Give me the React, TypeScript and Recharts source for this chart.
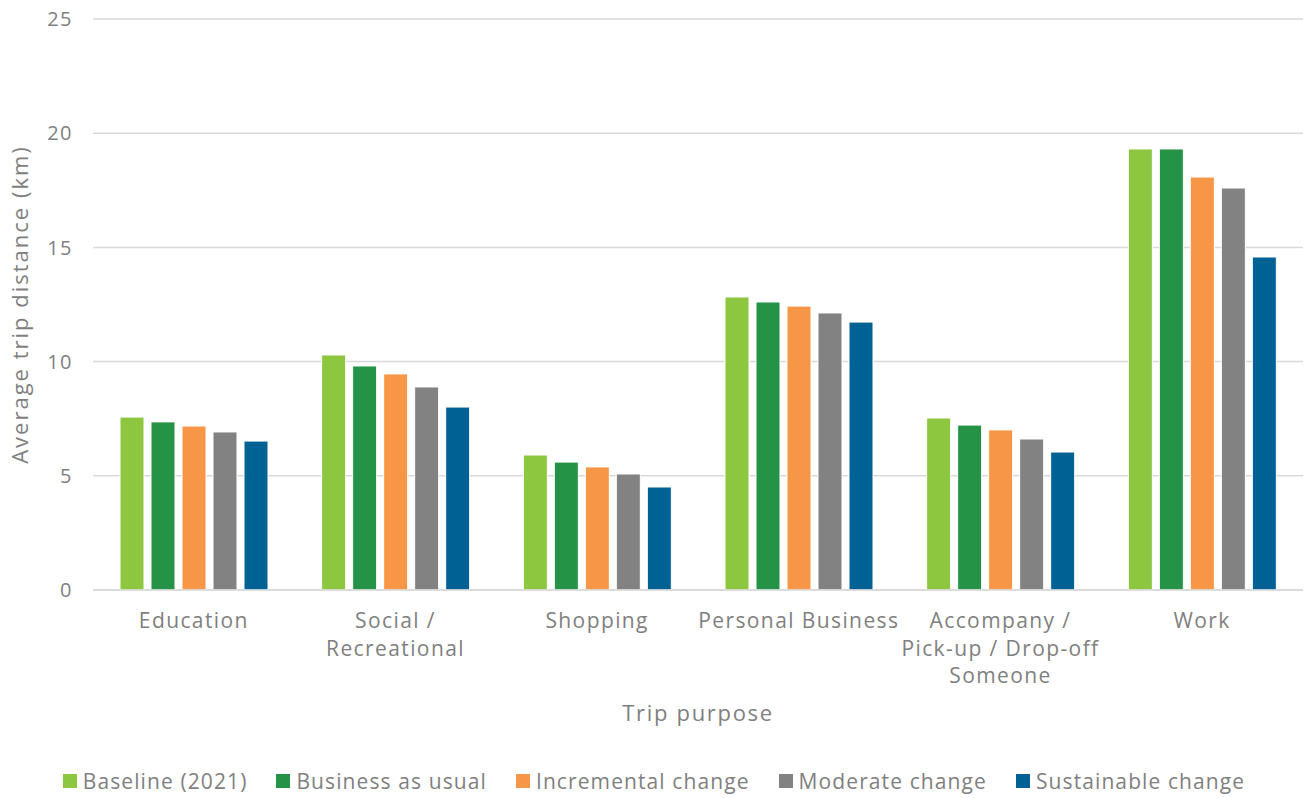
import React from "react";
import {
  BarChart,
  Bar,
  XAxis,
  YAxis,
  CartesianGrid,
  Legend,
  Label,
} from "recharts";

const PURPOSES = [
  "Education",
  "Social /\nRecreational",
  "Shopping",
  "Personal Business",
  "Accompany /\nPick-up / Drop-off\nSomeone",
  "Work",
];

const BASELINE = [7.57, 10.29, 5.91, 12.83, 7.53, 19.31];
const BUSINESS_AS_USUAL = [7.36, 9.81, 5.6, 12.61, 7.22, 19.31];
const INCREMENTAL = [7.18, 9.46, 5.39, 12.43, 7.01, 18.08];
const MODERATE = [6.92, 8.89, 5.08, 12.13, 6.61, 17.6];
const SUSTAINABLE = [6.52, 8.01, 4.51, 11.73, 6.04, 14.58];

const Y_TICKS = [0, 5, 10, 15, 20, 25];

const SERIES = [
  { key: "baseline", name: "Baseline (2021)", color: "#8DC63F", values: BASELINE },
  { key: "bau", name: "Business as usual", color: "#249346", values: BUSINESS_AS_USUAL },
  { key: "incremental", name: "Incremental change", color: "#F79646", values: INCREMENTAL },
  { key: "moderate", name: "Moderate change", color: "#828282", values: MODERATE },
  { key: "sustainable", name: "Sustainable change", color: "#006195", values: SUSTAINABLE },
];

const data = PURPOSES.map((p, i) => {
  const row: Record<string, string | number> = { purpose: p };
  SERIES.forEach((s) => {
    row[s.key] = s.values[i];
  });
  return row;
});

const FONT = "'Open Sans', 'Noto Sans', sans-serif";
const GREY = "#7f7f7f";

function PurposeTick(props: any) {
  const { x, y, payload } = props;
  const lines = String(payload.value).split("\n");
  return (
    <text
      x={x}
      y={y}
      textAnchor="middle"
      fill={GREY}
      fontSize={21}
      fontFamily={FONT}
      letterSpacing={1.4}
    >
      {lines.map((l, i) => (
        <tspan key={i} x={x} dy={i === 0 ? 30 : 27.5}>
          {l}
        </tspan>
      ))}
    </text>
  );
}

function LegendRow() {
  return (
    <div
      style={{
        display: "flex",
        justifyContent: "center",
        gap: 29,
        fontFamily: FONT,
        fontSize: 21,
        letterSpacing: 1.1,
        color: GREY,
        marginLeft: 5,
      }}
    >
      {SERIES.map((s) => (
        <div key={s.key} style={{ display: "flex", alignItems: "center", gap: 6 }}>
          <span style={{ width: 14, height: 14, background: s.color, display: "inline-block" }} />
          <span>{s.name}</span>
        </div>
      ))}
    </div>
  );
}

export default function App() {
  return (
    <div style={{ position: "absolute", left: 0, top: 0, background: "#fff" }}>
      <BarChart
        width={1306}
        height={798}
        data={data}
        margin={{ top: 19, right: 3, bottom: 0, left: 0 }}
        barGap={7}
        barSize={24}
      >
        <CartesianGrid vertical={false} stroke="#d9d9d9" strokeWidth={1.5} />
        <XAxis
          dataKey="purpose"
          axisLine={{ stroke: "#d9d9d9", strokeWidth: 1.5 }}
          tickLine={false}
          interval={0}
          height={180}
          tick={<PurposeTick />}
        >
          <Label
            value="Trip purpose"
            position="insideTop"
            offset={115}
            fill={GREY}
            fontSize={22}
            fontFamily={FONT}
            letterSpacing={1.7}
          />
        </XAxis>
        <YAxis
          domain={[0, 25]}
          ticks={Y_TICKS}
          width={93}
          axisLine={false}
          tickLine={false}
          tickMargin={14}
          tick={{ fill: GREY, fontSize: 20, fontFamily: FONT, letterSpacing: 1.5 }}
        >
          <Label
            value="Average trip distance (km)"
            angle={-90}
            position="insideLeft"
            offset={20}
            fill={GREY}
            fontSize={22}
            fontFamily={FONT}
            letterSpacing={2}
            style={{ textAnchor: "middle" }}
          />
        </YAxis>
        <Legend
          verticalAlign="bottom"
          content={<LegendRow />}
          wrapperStyle={{ bottom: 3 }}
        />
        {SERIES.map((s) => (
          <Bar
            key={s.key}
            dataKey={s.key}
            name={s.name}
            fill={s.color}
            stroke="#ffffff"
            strokeWidth={1}
            isAnimationActive={false}
          />
        ))}
      </BarChart>
    </div>
  );
}
